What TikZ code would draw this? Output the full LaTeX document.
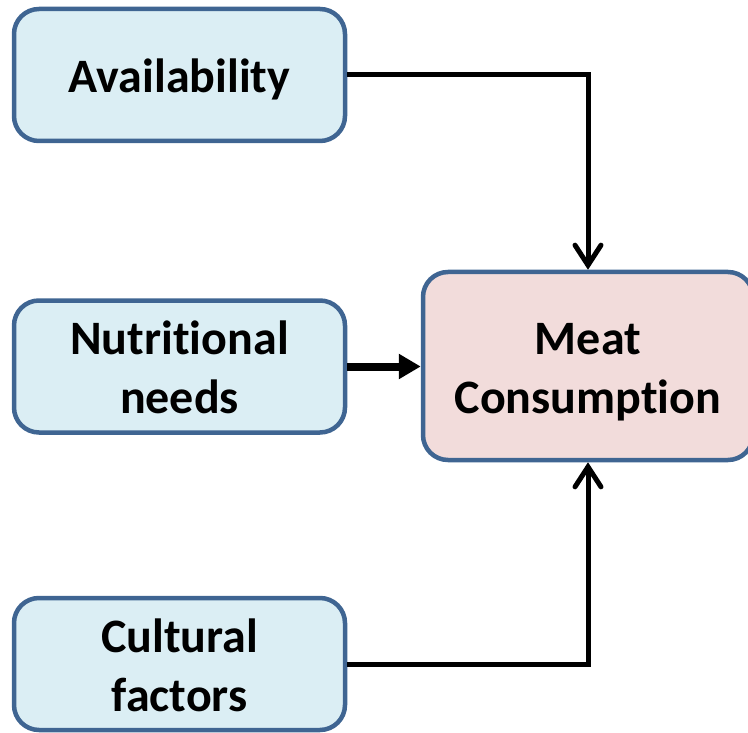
\documentclass[tikz,border=0pt]{standalone}
\usepackage{fontspec}
\setmainfont{Carlito}[RawFeature=-liga]
\usetikzlibrary{arrows.meta}
\definecolor{bluefill}{HTML}{DBEEF4}
\definecolor{pinkfill}{HTML}{F2DCDB}
\definecolor{boxborder}{HTML}{3F6592}
\newcommand{\boxlabel}[1]{\raisebox{0pt}[\dimexpr\height+6pt\relax][\dimexpr\depth-6pt\relax]{\begin{tabular}{@{}c@{}}#1\end{tabular}}}
\begin{document}
\begin{tikzpicture}[x=1pt,y=-1pt,
  factorbox/.style={draw=boxborder, line width=4.5pt, fill=bluefill, rounded corners=25pt,
    minimum width=331pt, minimum height=132pt, inner sep=0pt,
    font=\fontsize{48}{59}\selectfont\bfseries},
  resultbox/.style={factorbox, fill=pinkfill, minimum width=330pt, minimum height=188pt},
  thinarrow/.style={line width=5pt, -{Straight Barb[length=20pt,width=26pt,line cap=round]}},
  thickarrow/.style={line width=8pt, -{Triangle[length=22pt,width=24pt]}}]
\useasboundingbox (0,0) rectangle (748,733);
\node[factorbox] (avail) at (179.5,75) {\boxlabel{Availability}};
\node[factorbox] (nutr) at (179.5,366.5) {\boxlabel{Nutritional\\needs}};
\node[factorbox] (cult) at (179.5,664) {\boxlabel{Cultural\\factors}};
\node[resultbox] (meat) at (588,366) {\boxlabel{Meat\\Consumption}};
\draw[thinarrow] (avail.east) -| (meat.north);
\draw[thickarrow] (nutr.east) -- (nutr.east -| meat.west);
\draw[thinarrow] (cult.east) -| (meat.south);
\end{tikzpicture}
\end{document}
